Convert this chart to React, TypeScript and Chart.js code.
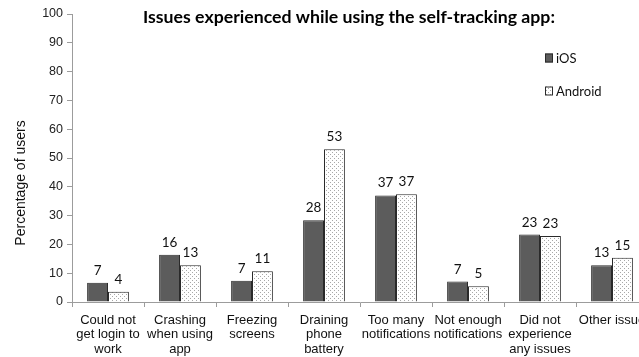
import React, { useEffect, useRef } from "react";
import { Chart, registerables } from "chart.js";

Chart.register(...registerables);

// ---------- data ----------
const categories: string[][] = [
  ["Could not", "get login to", "work"],
  ["Crashing", "when using", "app"],
  ["Freezing", "screens"],
  ["Draining", "phone", "battery"],
  ["Too many", "notifications"],
  ["Not enough", "notifications"],
  ["Did not", "experience", "any issues"],
  ["Other issue"],
];
const seriesNames = ["iOS", "Android"];
const iosValues = [6.7, 16.4, 7.4, 28.4, 37.0, 7.1, 23.4, 12.8];
const androidValues = [3.6, 12.8, 10.7, 53.0, 37.4, 5.5, 22.9, 15.4];
const iosLabels = [7, 16, 7, 28, 37, 7, 23, 13];
const androidLabels = [4, 13, 11, 53, 37, 5, 23, 15];
const yMin = 0;
const yMax = 100;
const yStep = 10;
const chartTitle = "Issues experienced while using the self-tracking app:";
const yAxisTitle = "Percentage of users";

// ---------- styles ----------
const SANS = '"Liberation Sans", Arial, sans-serif';
const CAL = 'Lato, "Open Sans", sans-serif';
const AXIS_GRAY = "#9c9c9c";
const IOS_FILL = "#5c5c5c";
const BAR_BORDER = "#2a2a2a";

function makeDotPattern(ctx: CanvasRenderingContext2D): CanvasPattern | string {
  const c = document.createElement("canvas");
  c.width = 4;
  c.height = 4;
  const x = c.getContext("2d");
  if (!x) return "#fff";
  x.fillStyle = "#ffffff";
  x.fillRect(0, 0, 4, 4);
  x.fillStyle = "#a8a8a8";
  x.fillRect(0, 0, 1, 1);
  x.fillRect(2, 2, 1, 1);
  return ctx.createPattern(c, "repeat") || "#fff";
}

const overlayPlugin = {
  id: "overlay",
  afterDatasetsDraw(chart: any) {
    const ctx: CanvasRenderingContext2D = chart.ctx;
    const area = chart.chartArea;
    ctx.save();

    // value labels
    ctx.font = `13.5px ${CAL}`;
    ctx.fillStyle = "#111";
    ctx.textAlign = "center";
    ctx.textBaseline = "alphabetic";
    chart.data.datasets.forEach((_ds: any, i: number) => {
      const meta = chart.getDatasetMeta(i);
      const labels = i === 0 ? iosLabels : androidLabels;
      meta.data.forEach((bar: any, j: number) => {
        ctx.fillText(String(labels[j]), bar.x, bar.y - 8);
      });
    });

    // title
    ctx.font = `bold 16px ${CAL}`;
    const w = ctx.measureText(chartTitle).width;
    const target = 412;
    const size = (16 * target) / w;
    ctx.font = `bold ${size.toFixed(2)}px ${CAL}`;
    ctx.textAlign = "center";
    ctx.fillStyle = "#000";
    ctx.fillText(chartTitle, area.left + 277, 22.5);

    // y-axis title
    ctx.save();
    ctx.translate(21, 183);
    ctx.rotate(-Math.PI / 2);
    ctx.font = `14px ${SANS}`;
    ctx.fillStyle = "#111";
    ctx.textAlign = "center";
    ctx.textBaseline = "middle";
    ctx.fillText(yAxisTitle, 0, 0);
    ctx.restore();

    // legend
    const lx = area.left + 473;
    const ly = [58, 91];
    ctx.font = `13px ${CAL}`;
    ctx.textAlign = "left";
    ctx.textBaseline = "middle";
    chart.data.datasets.forEach((ds: any, i: number) => {
      ctx.fillStyle = ds.backgroundColor;
      ctx.fillRect(lx, ly[i] - 4.5, 8, 9);
      ctx.strokeStyle = BAR_BORDER;
      ctx.lineWidth = 1;
      ctx.strokeRect(lx + 0.5, ly[i] - 4, 7, 8);
      ctx.fillStyle = "#111";
      ctx.fillText(ds.label, lx + 11, ly[i] + 0.5);
    });

    ctx.restore();
  },
};

export default function App() {
  const canvasRef = useRef<HTMLCanvasElement | null>(null);

  useEffect(() => {
    document.body.style.margin = "0";
    const canvas = canvasRef.current;
    if (!canvas) return;
    const ctx = canvas.getContext("2d");
    if (!ctx) return;
    const pattern = makeDotPattern(ctx);

    const chart = new Chart(ctx, {
      type: "bar",
      data: {
        labels: categories,
        datasets: [
          {
            label: seriesNames[0],
            data: iosValues,
            backgroundColor: IOS_FILL,
            borderColor: BAR_BORDER,
            borderWidth: 1,
            barPercentage: 1,
            categoryPercentage: 0.58,
          },
          {
            label: seriesNames[1],
            data: androidValues,
            backgroundColor: pattern as any,
            borderColor: BAR_BORDER,
            borderWidth: 1,
            barPercentage: 1,
            categoryPercentage: 0.58,
          },
        ],
      },
      options: {
        animation: false,
        responsive: false,
        maintainAspectRatio: false,
        layout: { padding: { left: 0, right: 12, top: 14, bottom: 0 } },
        plugins: {
          legend: { display: false },
          title: { display: false },
          tooltip: { enabled: false },
        },
        scales: {
          x: {
            offset: true,
            grid: {
              display: true,
              offset: true,
              drawOnChartArea: false,
              tickLength: 5,
              color: AXIS_GRAY,
            },
            border: { color: AXIS_GRAY },
            ticks: {
              font: { family: SANS, size: 13, lineHeight: 1.12 },
              color: "#111",
              padding: 6,
              maxRotation: 0,
              autoSkip: false,
            },
            afterFit(scale: any) {
              scale.height = 55;
            },
          },
          y: {
            min: yMin,
            max: yMax,
            ticks: {
              stepSize: yStep,
              font: { family: SANS, size: 12.5 },
              color: "#222",
              padding: 4,
            },
            grid: {
              drawOnChartArea: false,
              tickLength: 5,
              color: AXIS_GRAY,
            },
            border: { color: AXIS_GRAY },
            afterFit(scale: any) {
              scale.width = 72;
            },
          },
        },
      },
      plugins: [overlayPlugin],
    });

    return () => chart.destroy();
  }, []);

  return (
    <div
      style={{
        position: "fixed",
        left: 0,
        top: 0,
        width: 639,
        height: 357,
        overflow: "hidden",
        background: "#fff",
      }}
    >
      <canvas ref={canvasRef} width={660} height={357} style={{ width: 660, height: 357, display: "block" }} />
    </div>
  );
}
